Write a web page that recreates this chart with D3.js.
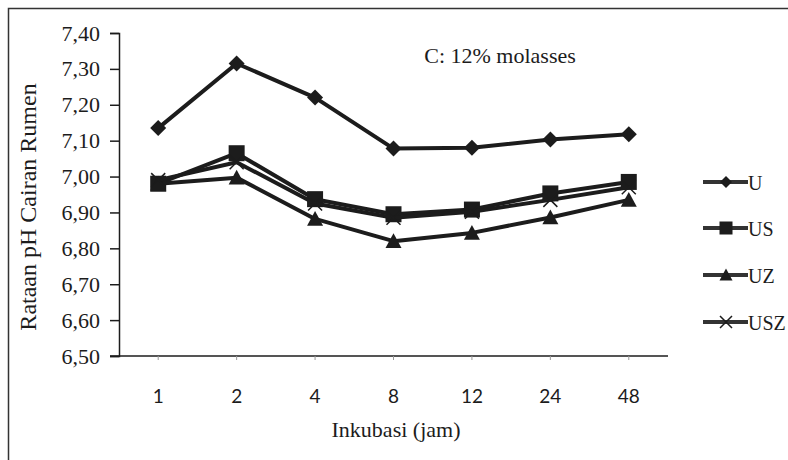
<!DOCTYPE html>
<html>
<head>
<meta charset="utf-8">
<script src="https://cdn.jsdelivr.net/npm/d3@7"></script>
<style>
  html, body { margin: 0; padding: 0; background: #fff; }
  svg { display: block; }
</style>
</head>
<body>
<svg id="chart" width="788" height="460"></svg>
<script>
// ---- data ----
const categories = ["1", "2", "4", "8", "12", "24", "48"];
const seriesNames = ["U", "US", "UZ", "USZ"];
const valuesU   = [7.135, 7.315, 7.220, 7.078, 7.080, 7.103, 7.118];
const valuesUS  = [6.980, 7.065, 6.937, 6.895, 6.908, 6.953, 6.985];
const valuesUZ  = [6.980, 6.997, 6.882, 6.820, 6.843, 6.886, 6.935];
const valuesUSZ = [6.990, 7.040, 6.925, 6.885, 6.902, 6.935, 6.970];
const yTicks = [6.5, 6.6, 6.7, 6.8, 6.9, 7.0, 7.1, 7.2, 7.3, 7.4];
const titleText = "C: 12% molasses";
const xTitle = "Inkubasi (jam)";
const yTitle = "Rataan pH Cairan Rumen";

const seriesValues = [valuesU, valuesUS, valuesUZ, valuesUSZ];
const markerTypes = ["diamond", "square", "triangle", "cross"];

// ---- layout ----
const svg = d3.select("#chart");
const plot = { left: 119, right: 668, top: 33, bottom: 356 };
const ink = "#1c1c1c";
const serif = "'Liberation Serif', 'Times New Roman', serif";
const sans = "Lato, 'Open Sans', sans-serif";

// outer frame
svg.append("rect")
  .attr("x", 8.5).attr("y", 8.5)
  .attr("width", 900).attr("height", 600)
  .attr("fill", "none").attr("stroke", "#333").attr("stroke-width", 1.5);

const x = d3.scaleBand().domain(categories).range([plot.left, plot.right]);
const y = d3.scaleLinear().domain([6.5, 7.4]).range([plot.bottom, plot.top]);

// y axis
const yAxis = svg.append("g")
  .attr("transform", `translate(${plot.left},0)`)
  .call(d3.axisLeft(y).tickValues(yTicks).tickSize(9).tickPadding(10)
    .tickFormat(d => d3.format(".2f")(d).replace(".", ",")));
yAxis.select(".domain").attr("stroke", ink).attr("stroke-width", 1.5);
yAxis.selectAll(".tick line").attr("stroke", ink).attr("stroke-width", 1.5);
yAxis.selectAll(".tick text")
  .attr("font-family", serif).attr("font-size", 22).attr("fill", ink);

// x axis
const xAxis = svg.append("g")
  .attr("transform", `translate(0,${plot.bottom})`)
  .call(d3.axisBottom(x).tickSize(4).tickPadding(30));
xAxis.select(".domain").attr("stroke", ink).attr("stroke-width", 1.5)
  .attr("d", `M${plot.left - 9},0H${plot.right}`);
xAxis.selectAll(".tick line").attr("stroke", "#999").attr("stroke-width", 1);
xAxis.selectAll(".tick text")
  .attr("font-family", sans).attr("font-size", 19).attr("fill", ink);

// titles
svg.append("text")
  .attr("x", 500).attr("y", 63).attr("text-anchor", "middle")
  .attr("font-family", serif).attr("font-size", 22).attr("fill", ink)
  .text(titleText);
svg.append("text")
  .attr("x", 396).attr("y", 437).attr("text-anchor", "middle")
  .attr("font-family", serif).attr("font-size", 22).attr("fill", ink)
  .text(xTitle);
svg.append("text")
  .attr("transform", "translate(36,207) rotate(-90)")
  .attr("text-anchor", "middle")
  .attr("font-family", serif).attr("font-size", 24).attr("fill", ink)
  .text(yTitle);

// marker drawing
function drawMarker(g, type, cx, cy, s) {
  if (type === "diamond") {
    g.append("path")
      .attr("d", `M${cx},${cy - s}L${cx + s},${cy}L${cx},${cy + s}L${cx - s},${cy}Z`)
      .attr("fill", ink);
  } else if (type === "square") {
    g.append("rect")
      .attr("x", cx - s).attr("y", cy - s).attr("width", 2 * s).attr("height", 2 * s)
      .attr("fill", ink);
  } else if (type === "triangle") {
    g.append("path")
      .attr("d", `M${cx},${cy - s}L${cx + s},${cy + s * 0.85}L${cx - s},${cy + s * 0.85}Z`)
      .attr("fill", ink);
  } else if (type === "cross") {
    g.append("path")
      .attr("d", `M${cx - s},${cy - s}L${cx + s},${cy + s}M${cx - s},${cy + s}L${cx + s},${cy - s}`)
      .attr("stroke", ink).attr("stroke-width", 1.5).attr("fill", "none");
  }
}

const line = d3.line()
  .x((d, i) => x(categories[i]) + x.bandwidth() / 2)
  .y(d => y(d));

const markerSize = { diamond: 8, square: 8, triangle: 8, cross: 7 };

// draw series in Excel order
seriesValues.forEach((vals, si) => {
  const g = svg.append("g");
  g.append("path")
    .datum(vals)
    .attr("d", line)
    .attr("fill", "none").attr("stroke", ink).attr("stroke-width", 4)
    .attr("stroke-linejoin", "round");
  vals.forEach((v, i) => {
    drawMarker(g, markerTypes[si], x(categories[i]) + x.bandwidth() / 2, y(v), markerSize[markerTypes[si]]);
  });
});

// legend
const legendY = [182, 228, 275, 322];
const legendSize = { diamond: 6, square: 6.5, triangle: 6.5, cross: 6 };
seriesNames.forEach((name, si) => {
  const g = svg.append("g");
  const ly = legendY[si];
  g.append("line")
    .attr("x1", 703).attr("x2", 748).attr("y1", ly).attr("y2", ly)
    .attr("stroke", "#333").attr("stroke-width", 4);
  drawMarker(g, markerTypes[si], 726, ly, legendSize[markerTypes[si]]);
  g.append("text")
    .attr("x", 748).attr("y", ly + 8)
    .attr("font-family", serif).attr("font-size", 20).attr("fill", ink)
    .text(name);
});
</script>
</body>
</html>
